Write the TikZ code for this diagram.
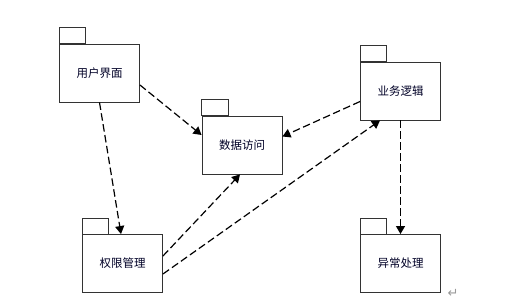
\documentclass[tikz,border=0pt]{standalone}
\usepackage{fontspec}
\newfontfamily\cjk{Noto Sans CJK SC}
\newfontfamily\symfont{DejaVu Sans}
\usetikzlibrary{arrows.meta,positioning,calc}

\tikzset{
  pkg/.style={draw=black!80,line width=0.9pt,minimum width=80pt,minimum height=58pt,
    font=\cjk\fontsize{11.5}{13}\selectfont,text=black!85!blue},
  tab/.style={draw=black!80,line width=0.9pt},
  dep/.style={-{Triangle[length=8pt,width=9pt]},line width=1.2pt,dash pattern=on 7.5pt off 3.5pt}
}

\begin{document}
\begin{tikzpicture}[x=1pt,y=-1pt]
      \useasboundingbox (0,0) rectangle (519,305);
      % packages
      \node[pkg] (yhjm) at (99.5,73) {用户界面};
      \node[pkg] (sjfw) at (242,145) {数据访问};
      \node[pkg] (ywlj) at (400.5,91) {业务逻辑};
      \node[pkg] (qxgl) at (122.5,263.5) {权限管理};
      \node[pkg] (yccl) at (400.5,263.5) {异常处理};
      % tabs
      \foreach \p in {yhjm,sjfw,ywlj,qxgl,yccl}
        \draw[tab] (\p.north west) rectangle ++(26.5,-16);
      % dependencies
      \draw[dep] ([yshift=-12pt]yhjm.east) -- ([yshift=10pt]sjfw.west);
      \draw[dep] (yhjm.south) -- ([xshift=-1.5pt]qxgl.north);
      \draw[dep] ([yshift=-10.5pt]ywlj.west) -- ([yshift=8.5pt]sjfw.east);
      \draw[dep] ([yshift=7.5pt]qxgl.east) -- ([xshift=-2pt]sjfw.south);
      \draw[dep] ([yshift=-10.5pt]qxgl.east) -- ([xshift=-20.5pt]ywlj.south);
      \draw[dep] (ywlj.south) -- (yccl.north);
      % paragraph mark
      \node[text=black!40,font=\symfont\fontsize{13}{13}\selectfont] (ret) at (453,293) {↵};
    \end{tikzpicture}
\end{document}
